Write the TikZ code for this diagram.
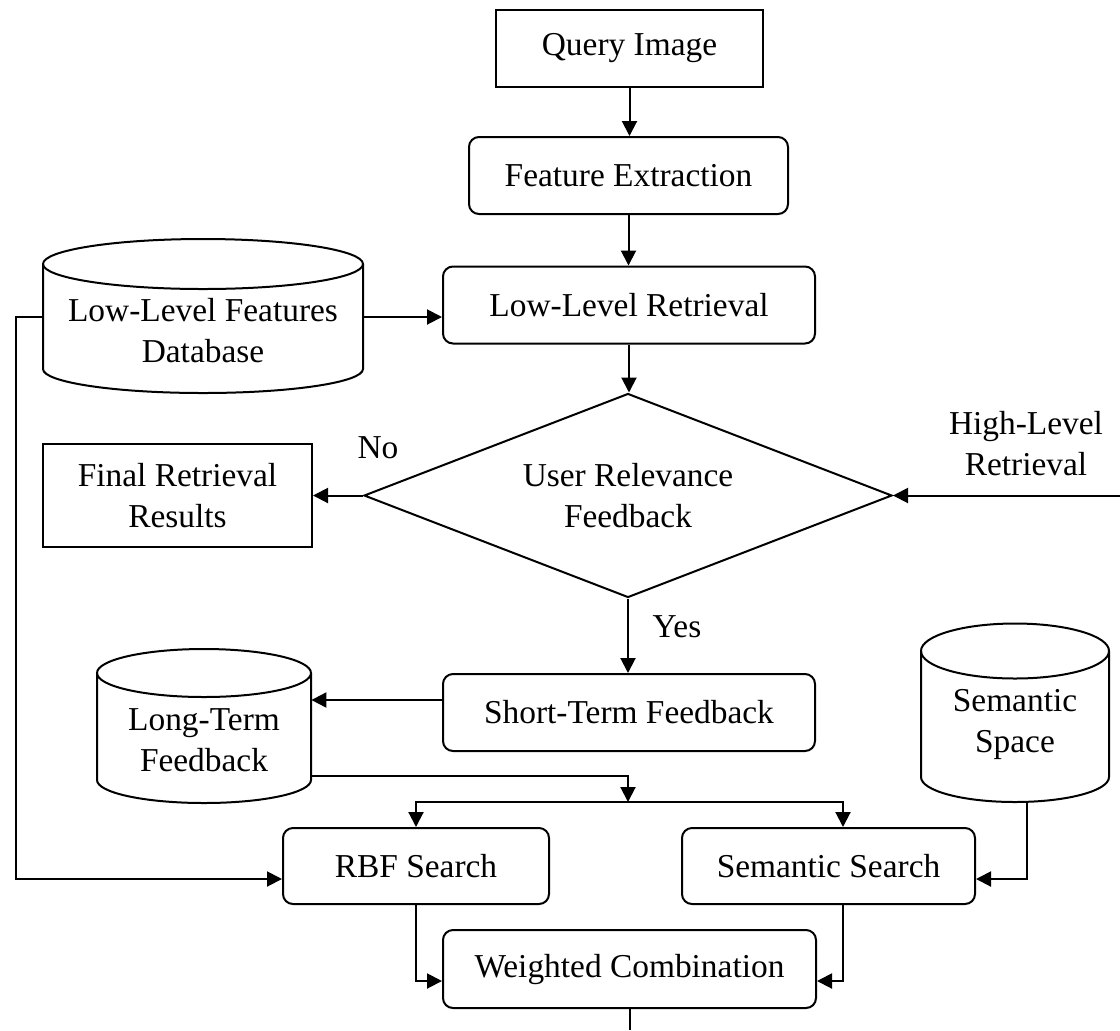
\documentclass[tikz,border=0pt]{standalone}
\usepackage{fontspec}
\setmainfont{Liberation Serif}
\usetikzlibrary{arrows.meta,shapes.geometric,calc}
\begin{document}
\begin{tikzpicture}[x=0.5pt,y=-0.5pt,
  every node/.style={font=\fontsize{16.7}{20.5}\selectfont, inner sep=0pt, align=center},
  sq/.style={draw, line width=1pt, rectangle},
  rbox/.style={draw, line width=1pt, rectangle, rounded corners=5pt},
  cyl/.style={draw, line width=1pt},
  ln/.style={line width=1pt},
  arr/.style={line width=1pt, -{Triangle[length=7.5pt,width=7.5pt]}}]
\useasboundingbox (0,0) rectangle (1120,1030);

% main nodes
\node[sq, minimum width=133.5pt, minimum height=38.5pt] (qi) at (629.5,48.5) {Query Image};
\node[rbox, minimum width=159.5pt, minimum height=38.5pt] (fe) at (628.5,175.5) {Feature Extraction};
\node[rbox, minimum width=186pt, minimum height=38.5pt] (llr) at (629,305) {Low-Level Retrieval};
\node[draw, line width=1pt, diamond, aspect=2.59, minimum width=264pt, minimum height=102pt] (dec) at (628,495.5) {User Relevance\\Feedback};
\node[sq, minimum width=134.5pt, minimum height=51.5pt] (frr) at (177.5,495.5) {Final Retrieval\\Results};
\node[rbox, minimum width=186pt, minimum height=38.5pt] (stf) at (629,712.5) {Short-Term Feedback};
\node[rbox, minimum width=133pt, minimum height=38pt] (rbf) at (416,866) {RBF Search};
\node[rbox, minimum width=146.5pt, minimum height=38pt] (sem) at (828.5,866) {Semantic Search};
\node[rbox, minimum width=186.5pt, minimum height=39pt] (wc) at (629.5,969) {Weighted Combination};

% cylinders
\draw[cyl] (43,264) -- (43,369) arc[start angle=180,end angle=360,x radius=80pt,y radius=12pt] -- (363,264);
\draw[cyl] (203,264) ellipse[x radius=80pt,y radius=12.5pt];
\node[minimum width=160pt] (lldb) at (203,331) {Low-Level Features\\Database};

\draw[cyl] (97,673) -- (97,780) arc[start angle=180,end angle=360,x radius=53.5pt,y radius=11.5pt] -- (311,673);
\draw[cyl] (204,673) ellipse[x radius=53.5pt,y radius=12pt];
\node[minimum width=107pt] (ltf) at (204,740) {Long-Term\\Feedback};

\draw[cyl] (921,651) -- (921,777) arc[start angle=180,end angle=360,x radius=47pt,y radius=12.5pt] -- (1109,651);
\draw[cyl] (1015,651) ellipse[x radius=47pt,y radius=13.75pt];
\node[minimum width=94pt, minimum height=78pt] (ss) at (1015,724) {Semantic\\Space};

% labels
\node (no) at (378,448) {No};
\node (yes) at (677,627) {Yes};
\node (hlr) at (1026,444) {High-Level\\Retrieval};

% connectors
\draw[arr] (qi.south) -- (qi.south |- fe.north);
\draw[arr] (fe.south) -- (fe.south |- llr.north);
\draw[arr] (llr.south) -- (llr.south |- dec.north);
\draw[arr] ([yshift=7pt]lldb.east) -- ([yshift=7pt]lldb.east -| llr.west);
\draw[arr] (dec.west) -- (frr.east);
\coordinate (hin) at (1120,495.5);
\draw[arr] (hin) -- (dec.east);
\draw[arr] (dec.south) -- (dec.south |- stf.north);
\draw[arr] ([yshift=6.25pt]stf.west) -- ([yshift=6.25pt]stf.west -| ltf.east);
\coordinate (split) at (628,802);
\draw[arr] ([yshift=-18pt]ltf.east) -| (split);
\draw[arr] (split) -| (rbf.north);
\draw[arr] (split) -| ([xshift=7.25pt]sem.north);
\draw[arr] ([yshift=7pt]lldb.west) -- ++(-13.5pt,0) |- ([yshift=-6.5pt]rbf.west);
\draw[arr] ([xshift=6pt]ss.south) |- ([yshift=-6.5pt]sem.east);
\draw[arr] (rbf.south) |- ([yshift=-6pt]wc.west);
\draw[arr] ([xshift=7.25pt]sem.south) |- ([yshift=-6pt]wc.east);
\coordinate (out) at (628,1030);
\draw[ln] (wc.south) -- (wc.south |- out);
\end{tikzpicture}
\end{document}
